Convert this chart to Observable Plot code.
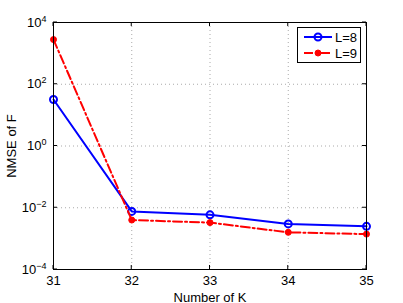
<!DOCTYPE html>
<html><head><meta charset="utf-8">
<script src="https://cdn.jsdelivr.net/npm/d3@7"></script>
<script src="https://cdn.jsdelivr.net/npm/@observablehq/plot@0.6"></script>
<style>
body{margin:0;background:#fff;font-family:"Liberation Sans",Arial,sans-serif}
#wrap{position:relative;width:403px;height:303px}
#legend{position:absolute;left:297px;top:27px;width:64px;height:36px;border:1px solid #000;background:#fff;box-sizing:border-box}
#legend svg{position:absolute;left:0;top:0}
</style></head><body><div id="wrap"></div>
<script>
const K = [31, 32, 33, 34, 35];
const nmseL8 = [32, 0.0076, 0.0059, 0.0030, 0.0025];
const nmseL9 = [2800, 0.0040, 0.0033, 0.0016, 0.0014];
const seriesNames = ["L=8", "L=9"];
const xTicks = [31, 32, 33, 34, 35];
const yTicks = [1e-4, 1e-2, 1, 1e2, 1e4];
const gridX = [32, 33, 34];
const gridY = [1e-2, 1, 1e2];

const blue = "#0000ff", red = "#ff0000";
const rows8 = K.map((k, i) => ({k, v: nmseL8[i]}));
const rows9 = K.map((k, i) => ({k, v: nmseL9[i]}));
const grid = {stroke: "#aaa", strokeDasharray: "1,3", strokeWidth: 1, strokeOpacity: 1};

const plot = Plot.plot({
  width: 403, height: 303,
  marginLeft: 53, marginRight: 37, marginTop: 22, marginBottom: 34,
  style: {fontFamily: "'Liberation Sans', Arial, sans-serif", fontSize: "13px", background: "#fff", color: "#000", overflow: "visible"},
  x: {domain: [31, 35], label: null},
  y: {type: "log", domain: [1e-4, 1e4], label: null},
  marks: [
    Plot.ruleX(gridX, grid),
    Plot.ruleY(gridY, grid),
    Plot.axisX({anchor: "bottom", ticks: xTicks, tickSize: 0, tickPadding: 6, tickFormat: d => String(d),
      label: "Number of K", labelAnchor: "center", labelArrow: "none", labelOffset: 32}),
    Plot.axisY({anchor: "left", ticks: yTicks, tickSize: 0, tickPadding: 7, tickFormat: d => String(Math.round(Math.log10(d))),
      label: "NMSE of F", labelAnchor: "center", labelArrow: "none", labelOffset: 47}),
    Plot.tickX(xTicks, {x: d => d, y: () => 1e-4, stroke: "#000", insetTop: 0}),
    Plot.line(rows8, {x: "k", y: "v", stroke: blue, strokeWidth: 2}),
    Plot.dot(rows8, {x: "k", y: "v", r: 3.5, stroke: blue, strokeWidth: 2, fill: "none"}),
    Plot.line(rows9, {x: "k", y: "v", stroke: red, strokeWidth: 2, strokeDasharray: "9,3,2,3"}),
    Plot.dot(rows9, {x: "k", y: "v", r: 3, fill: red, stroke: red, strokeWidth: 1}),
    Plot.frame({stroke: "#000", strokeWidth: 1})
  ].filter((m, i) => i !== 4)
});

// inward ticks on all four sides, positioned by the plot's scales
const sx = plot.scale("x"), sy = plot.scale("y");
const svg = d3.select(plot);
const [x0, x1] = sx.range, [y0, y1] = sy.range;
const tg = svg.append("g").attr("stroke", "#000").attr("stroke-width", 1);
xTicks.forEach(t => {
  const px = sx.apply(t);
  tg.append("line").attr("x1", px).attr("x2", px).attr("y1", y0).attr("y2", y0 - 4);
  tg.append("line").attr("x1", px).attr("x2", px).attr("y1", y1).attr("y2", y1 + 4);
});
yTicks.forEach(t => {
  const py = sy.apply(t);
  tg.append("line").attr("y1", py).attr("y2", py).attr("x1", x0).attr("x2", x0 + 4);
  tg.append("line").attr("y1", py).attr("y2", py).attr("x1", x1).attr("x2", x1 - 4);
});

// superscript exponents on y tick labels
svg.selectAll('g[aria-label="y-axis tick label"] text').each(function() {
  const e = this.textContent;
  const t = d3.select(this);
  t.text(null);
  t.append("tspan").text("10");
  t.append("tspan").attr("dy", "-0.55em").attr("font-size", "9px").text(e.replace("-", "\u2212"));
});

const wrap = document.getElementById("wrap");
wrap.appendChild(plot);

// legend inside the plot area
const lg = document.createElement("div");
lg.id = "legend";
wrap.appendChild(lg);
const ls = d3.select(lg).append("svg").attr("width", 64).attr("height", 36);
const styles = [
  {stroke: blue, dash: null, fill: "none", r: 3.5, sw: 2},
  {stroke: red, dash: "9,3,2,3", fill: red, r: 3, sw: 1}
];
seriesNames.forEach((name, i) => {
  const y = 9 + i * 16, s = styles[i];
  ls.append("line").attr("x1", 6).attr("x2", 34).attr("y1", y).attr("y2", y)
    .attr("stroke", s.stroke).attr("stroke-width", 2).attr("stroke-dasharray", s.dash);
  ls.append("circle").attr("cx", 20).attr("cy", y).attr("r", s.r)
    .attr("fill", s.fill).attr("stroke", s.stroke).attr("stroke-width", s.sw);
  ls.append("text").attr("x", 37).attr("y", y).attr("dy", "0.35em")
    .attr("font-size", "13px").attr("font-family", "'Liberation Sans', Arial, sans-serif").text(name);
});
</script></body></html>
